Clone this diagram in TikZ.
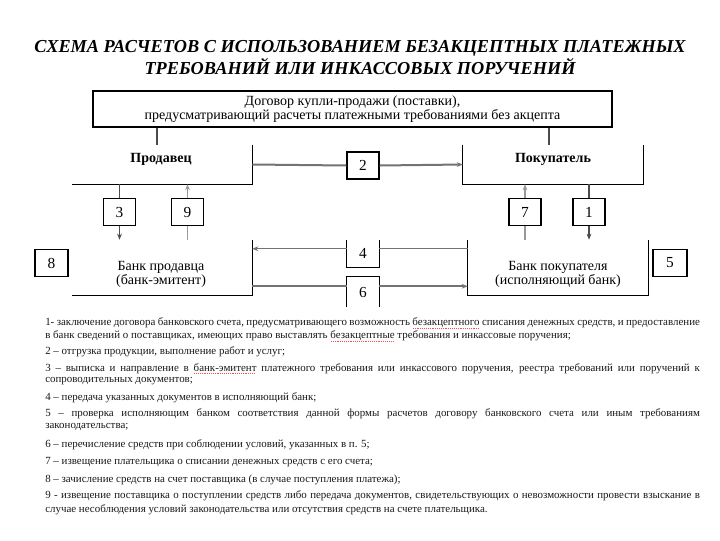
\documentclass[tikz,border=0pt]{standalone}
\usepackage{fontspec}
\setmainfont{Liberation Serif}
\usetikzlibrary{arrows.meta}
\newsavebox\wavebox
\newcommand\rwave[1]{\sbox\wavebox{#1}\rlap{\usebox\wavebox}\raisebox{-1.8pt}{\textcolor{red!70}{\leaders\hbox to 1.4pt{\hss\vrule width 0.7pt height 0.45pt\hss}\hskip\wd\wavebox}}}
\begin{document}
\begin{tikzpicture}[x=0.75pt,y=-0.75pt,
  frameline/.style={draw=black,line width=0.8pt},
  frame/.style={inner sep=0pt,minimum width=135pt},
  numbox/.style={draw=black,line width=0.8pt,fill=white,inner sep=0pt,minimum width=24pt,minimum height=20.25pt,font=\fontsize{11.5}{12}\selectfont},
  openbox/.style={fill=white,inner sep=0pt,minimum width=24pt,font=\fontsize{11.5}{12}\selectfont},
  lbl/.style={inner sep=0pt,font=\fontsize{10.5}{10}\selectfont,align=center},
  blbl/.style={inner sep=0pt,font=\fontsize{10.5}{10}\selectfont\bfseries},
  conn/.style={draw=black!70,line width=0.8pt},
  lconn/.style={draw=black!40,line width=0.8pt},
  tip/.style={-{Stealth[length=4.5pt,width=3.5pt]}},
  thickconn/.style={draw=black!55,line width=1.5pt},
  thinconn/.style={draw=black!55,line width=0.6pt},
  txt/.style={inner sep=0pt,anchor=west,font=\fontsize{8.2}{9.5}\selectfont,text=black!90}
]
\useasboundingbox (0,0) rectangle (720,540);
\fill[white] (0,0) rectangle (720,540);

% title
\node[inner sep=0pt,align=center,font=\fontsize{13.7}{14.25}\selectfont\bfseries\itshape] (title) at (360,57.5)
  {СХЕМА РАСЧЕТОВ С ИСПОЛЬЗОВАНИЕМ БЕЗАКЦЕПТНЫХ ПЛАТЕЖНЫХ\\ТРЕБОВАНИЙ ИЛИ ИНКАССОВЫХ ПОРУЧЕНИЙ};

% contract box
\node[frameline,inner sep=0pt,minimum width=389.25pt,minimum height=27pt,align=center,font=\fontsize{10.5}{9.75}\selectfont] (contract) at (352.5,109)
  {Договор купли-продажи (поставки),\\предусматривающий расчеты платежными требованиями без акцепта};

% seller / buyer frames
\node[frame,minimum height=29.25pt] (seller) at (162,164.5) {};
\draw[frameline] (seller.north east) -- (seller.south east) -- (seller.south west);
\node[blbl] (sellerlbl) at (161,159) {Продавец};

\node[frame,minimum height=29.25pt] (buyer) at (553,164.5) {};
\draw[frameline] (buyer.north west) -- (buyer.south west) -- (buyer.south east) -- (buyer.north east);
\node[blbl] (buyerlbl) at (553,159) {Покупатель};

% bank frames
\node[frame,minimum height=41.25pt] (bankS) at (162,267.5) {};
\draw[frameline] (bankS.north east) -- (bankS.south east) -- (bankS.south west);
\node[lbl] (bankSlbl) at (161,274.5) {Банк продавца\\(банк-эмитент)};

\node[frame,minimum height=41.25pt] (bankB) at (558,267.5) {};
\draw[frameline] (bankB.north west) -- (bankB.south west) -- (bankB.south east) -- (bankB.north east);
\node[lbl] (bankBlbl) at (558,274.5) {Банк покупателя\\(исполняющий банк)};

% connectors from contract
\draw[conn] ([xshift=-3.75pt]seller.north |- contract.south) -- ([xshift=-3.75pt]seller.north);
\draw[conn] ([xshift=-3pt]buyer.north |- contract.south) -- ([xshift=-3pt]buyer.north);

% number boxes
\node[numbox] (b2) at (363,165.5) {2};
\node[numbox] (b3) at (119.5,212) {3};
\node[numbox] (b9) at (187.5,212) {9};
\node[numbox] (b7) at (525,212) {7};
\node[numbox] (b1) at (589,212) {1};
\node[numbox,minimum width=24.75pt] (b8) at (51.5,263) {8};
\node[numbox,minimum width=25.5pt] (b5) at (670,263) {5};
\node[openbox,minimum height=20.25pt] (b4) at (363,253.5) {4};
\draw[frameline] (b4.north west) -- (b4.south west) -- (b4.south east) -- (b4.north east);
\node[openbox,minimum height=22.5pt] (b6) at (363,292) {6};
\draw[frameline] (b6.south west) -- (b6.north west) -- (b6.north east) -- (b6.south east);

% arrow 2
\draw[thickconn] (seller.east) -- (b2.west);
\draw[thickconn,tip] (b2.east) -- (buyer.west);

% arrow 3
\draw[conn] (seller.south -| b3) -- (b3.north);
\draw[conn,tip] (b3.south) -- (b3.south |- bankS.north);
% arrow 9
\draw[lconn] (bankS.north -| b9) -- (b9.south);
\draw[lconn,tip] (b9.north) -- (b9.north |- seller.south);
% arrow 7
\draw[lconn] (bankB.north -| b7) -- (b7.south);
\draw[lconn,tip] (b7.north) -- (b7.north |- buyer.south);
% arrow 1
\draw[conn] (buyer.south -| b1) -- (b1.north);
\draw[conn,tip] (b1.south) -- (b1.south |- bankB.north);

% arrow 4
\coordinate (p4) at ([yshift=-6.75pt]bankB.north west);
\draw[thinconn] (p4) -- (p4 -| b4.east);
\draw[thinconn,tip] (p4 -| b4.west) -- (p4 -| bankS.east);
% arrow 6
\coordinate (p6) at ([yshift=6.75pt]bankS.south east);
\draw[thickconn] (p6) -- (p6 -| b6.west);
\draw[thickconn,tip] (p6 -| b6.east) -- (p6 -| bankB.west);

% legend text
\node[txt] (t1) at (45,323) {\makebox[491pt][s]{1- заключение договора банковского счета, предусматривающего возможность \rwave{безакцептного} списания денежных средств, и предоставление}};
\node[txt] (t2) at (45,336) {в банк сведений о поставщиках, имеющих право выставлять \rwave{безакцептные} требования и инкассовые поручения;};
\node[txt] (t3) at (45,352) {2 – отгрузка продукции, выполнение работ и услуг;};
\node[txt] (t4) at (45,368.5) {\makebox[491pt][s]{3 – выписка и направление в \rwave{банк-эмитент} платежного требования или инкассового поручения, реестра требований или поручений к}};
\node[txt] (t5) at (45,381.5) {сопроводительных документов;};
\node[txt] (t6) at (45,397.5) {4 – передача указанных документов в исполняющий банк;};
\node[txt] (t7) at (45,414) {\makebox[491pt][s]{5 – проверка исполняющим банком соответствия данной формы расчетов договору банковского счета или иным требованиям}};
\node[txt] (t8) at (45,427) {законодательства;};
\node[txt] (t9) at (45,445) {6 – перечисление средств при соблюдении условий, указанных в п. 5;};
\node[txt] (t10) at (45,462.5) {7 – извещение плательщика о списании денежных средств с его счета;};
\node[txt] (t11) at (45,479.5) {8 – зачисление средств на счет поставщика (в случае поступления платежа);};
\node[txt] (t12) at (45,496) {\makebox[491pt][s]{9 - извещение поставщика о поступлении средств либо передача документов, свидетельствующих о невозможности провести взыскание в}};
\node[txt] (t13) at (45,510) {случае несоблюдения условий законодательства или отсутствия средств на счете плательщика.};
\end{tikzpicture}
\end{document}
